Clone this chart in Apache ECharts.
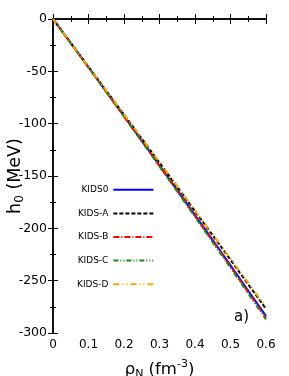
<!DOCTYPE html>
<html><head><meta charset="utf-8">
<script src="https://cdn.jsdelivr.net/npm/echarts@6/dist/echarts.min.js"></script>
<style>html,body{margin:0;padding:0;background:#fff}#c{width:289px;height:376px}</style>
</head><body><div id="c"></div>
<script>
const density = [0, 0.05, 0.1, 0.15, 0.2, 0.25, 0.3, 0.35, 0.4, 0.45, 0.5, 0.55, 0.6];
const kids0 = [0, -23.0, -46.1, -69.4, -92.7, -116.2, -139.8, -163.5, -187.4, -211.3, -235.4, -259.6, -283.9];
const kidsA = [0, -22.8, -45.6, -68.5, -91.4, -114.3, -137.3, -160.4, -183.6, -206.7, -230.1, -253.5, -276.9];
const kidsB = [0, -23.0, -46.2, -69.6, -93.0, -116.6, -140.3, -164.2, -188.2, -212.3, -236.5, -260.9, -285.4];
const kidsC = [0, -23.1, -46.3, -69.8, -93.3, -117.1, -140.9, -164.9, -189.1, -213.4, -237.8, -262.4, -287.1];
const kidsD = [0, -22.8, -45.5, -68.3, -91.1, -113.9, -136.8, -159.7, -182.8, -205.8, -228.9, -252.1, -275.4];
const seriesNames = ['KIDS0', 'KIDS-A', 'KIDS-B', 'KIDS-C', 'KIDS-D'];
const seriesData = [kids0, kidsA, kidsB, kidsC, kidsD];
const colors = ['#0000ff', '#000000', '#ff0000', '#1a8c1a', '#ffa500'];
const dashes = ['solid', [4, 2], [6, 2, 1, 2], [5, 2, 1, 2, 1, 2], [6, 3, 1, 3, 1, 3]];

const chart = echarts.init(document.getElementById('c'), null, {renderer: 'canvas'});
const font = 'DejaVu Sans';
const axisCommon = {
  min: 0, max: 0.6, interval: 0.1,
  axisLine: {lineStyle: {color: '#000', width: 1.5}},
  axisTick: {inside: true, length: 5, lineStyle: {color: '#000', width: 1}},
  minorTick: {show: true, splitNumber: 2, length: 3, lineStyle: {color: '#000', width: 1}},
  splitLine: {show: false}
};
const yCommon = {
  min: -300, max: 0, interval: 50,
  axisLine: {show: true, lineStyle: {color: '#000', width: 1.5}},
  axisTick: {show: true, inside: true, length: 5, lineStyle: {color: '#000', width: 1}},
  minorTick: {show: true, splitNumber: 2, length: 3, lineStyle: {color: '#000', width: 1}},
  splitLine: {show: false}
};
chart.setOption({
  animation: false,
  textStyle: {fontFamily: font},
  grid: {left: 53, right: 23, top: 19, bottom: 43, containLabel: false, outerBoundsMode: 'none'},
  legend: {
    orient: 'vertical', left: 72, top: 180, align: 'right',
    itemWidth: 40, itemHeight: 12, itemGap: 14,
    itemStyle: {opacity: 0},
    textStyle: {fontSize: 9, color: '#000', fontFamily: font},
    data: seriesNames
  },
  xAxis: [Object.assign({}, axisCommon, {
    type: 'value', position: 'bottom',
    axisLabel: {color: '#000', fontSize: 12, margin: 6, formatter: v => v === 0 ? '0' : v.toFixed(1)},
    name: '{a|ρ}{sub|N}{a| (fm}{sup|-3}{a|)}', nameLocation: 'middle', nameGap: 26, nameMoveOverlap: false,
    nameTextStyle: {rich: {
      a: {fontSize: 16.5, color: '#000', fontFamily: font},
      sub: {fontSize: 11, color: '#000', fontFamily: font, padding: [10, 0, 0, 0]},
      sup: {fontSize: 11, color: '#000', fontFamily: font, padding: [0, 0, 10, 0]}
    }}
  }), Object.assign({}, axisCommon, {
    type: 'value', position: 'top', axisLabel: {show: false}
  })],
  yAxis: [Object.assign({}, yCommon, {
    type: 'value', position: 'left',
    axisLabel: {color: '#000', fontSize: 12.5, margin: 6},
    name: '{a|h}{sub|0}{a| (MeV)}', nameLocation: 'middle', nameGap: 27, nameMoveOverlap: false,
    nameTextStyle: {rich: {
      a: {fontSize: 17.5, color: '#000', fontFamily: font},
      sub: {fontSize: 12, color: '#000', fontFamily: font, padding: [10, 0, 0, 0]}
    }}
  }), Object.assign({}, yCommon, {
    type: 'value', position: 'right', axisLabel: {show: false}
  })],
  graphic: [{type: 'text', left: 234, top: 310, style: {text: 'a)', fontSize: 15, fill: '#000', fontFamily: font}}],
  series: seriesNames.map((n, i) => ({
    name: n, type: 'line', symbol: 'none', smooth: true,
    data: density.map((d, j) => [d, seriesData[i][j]]),
    lineStyle: {color: colors[i], width: 2, type: dashes[i]},
    itemStyle: {color: colors[i]}
  }))
});
</script></body></html>
